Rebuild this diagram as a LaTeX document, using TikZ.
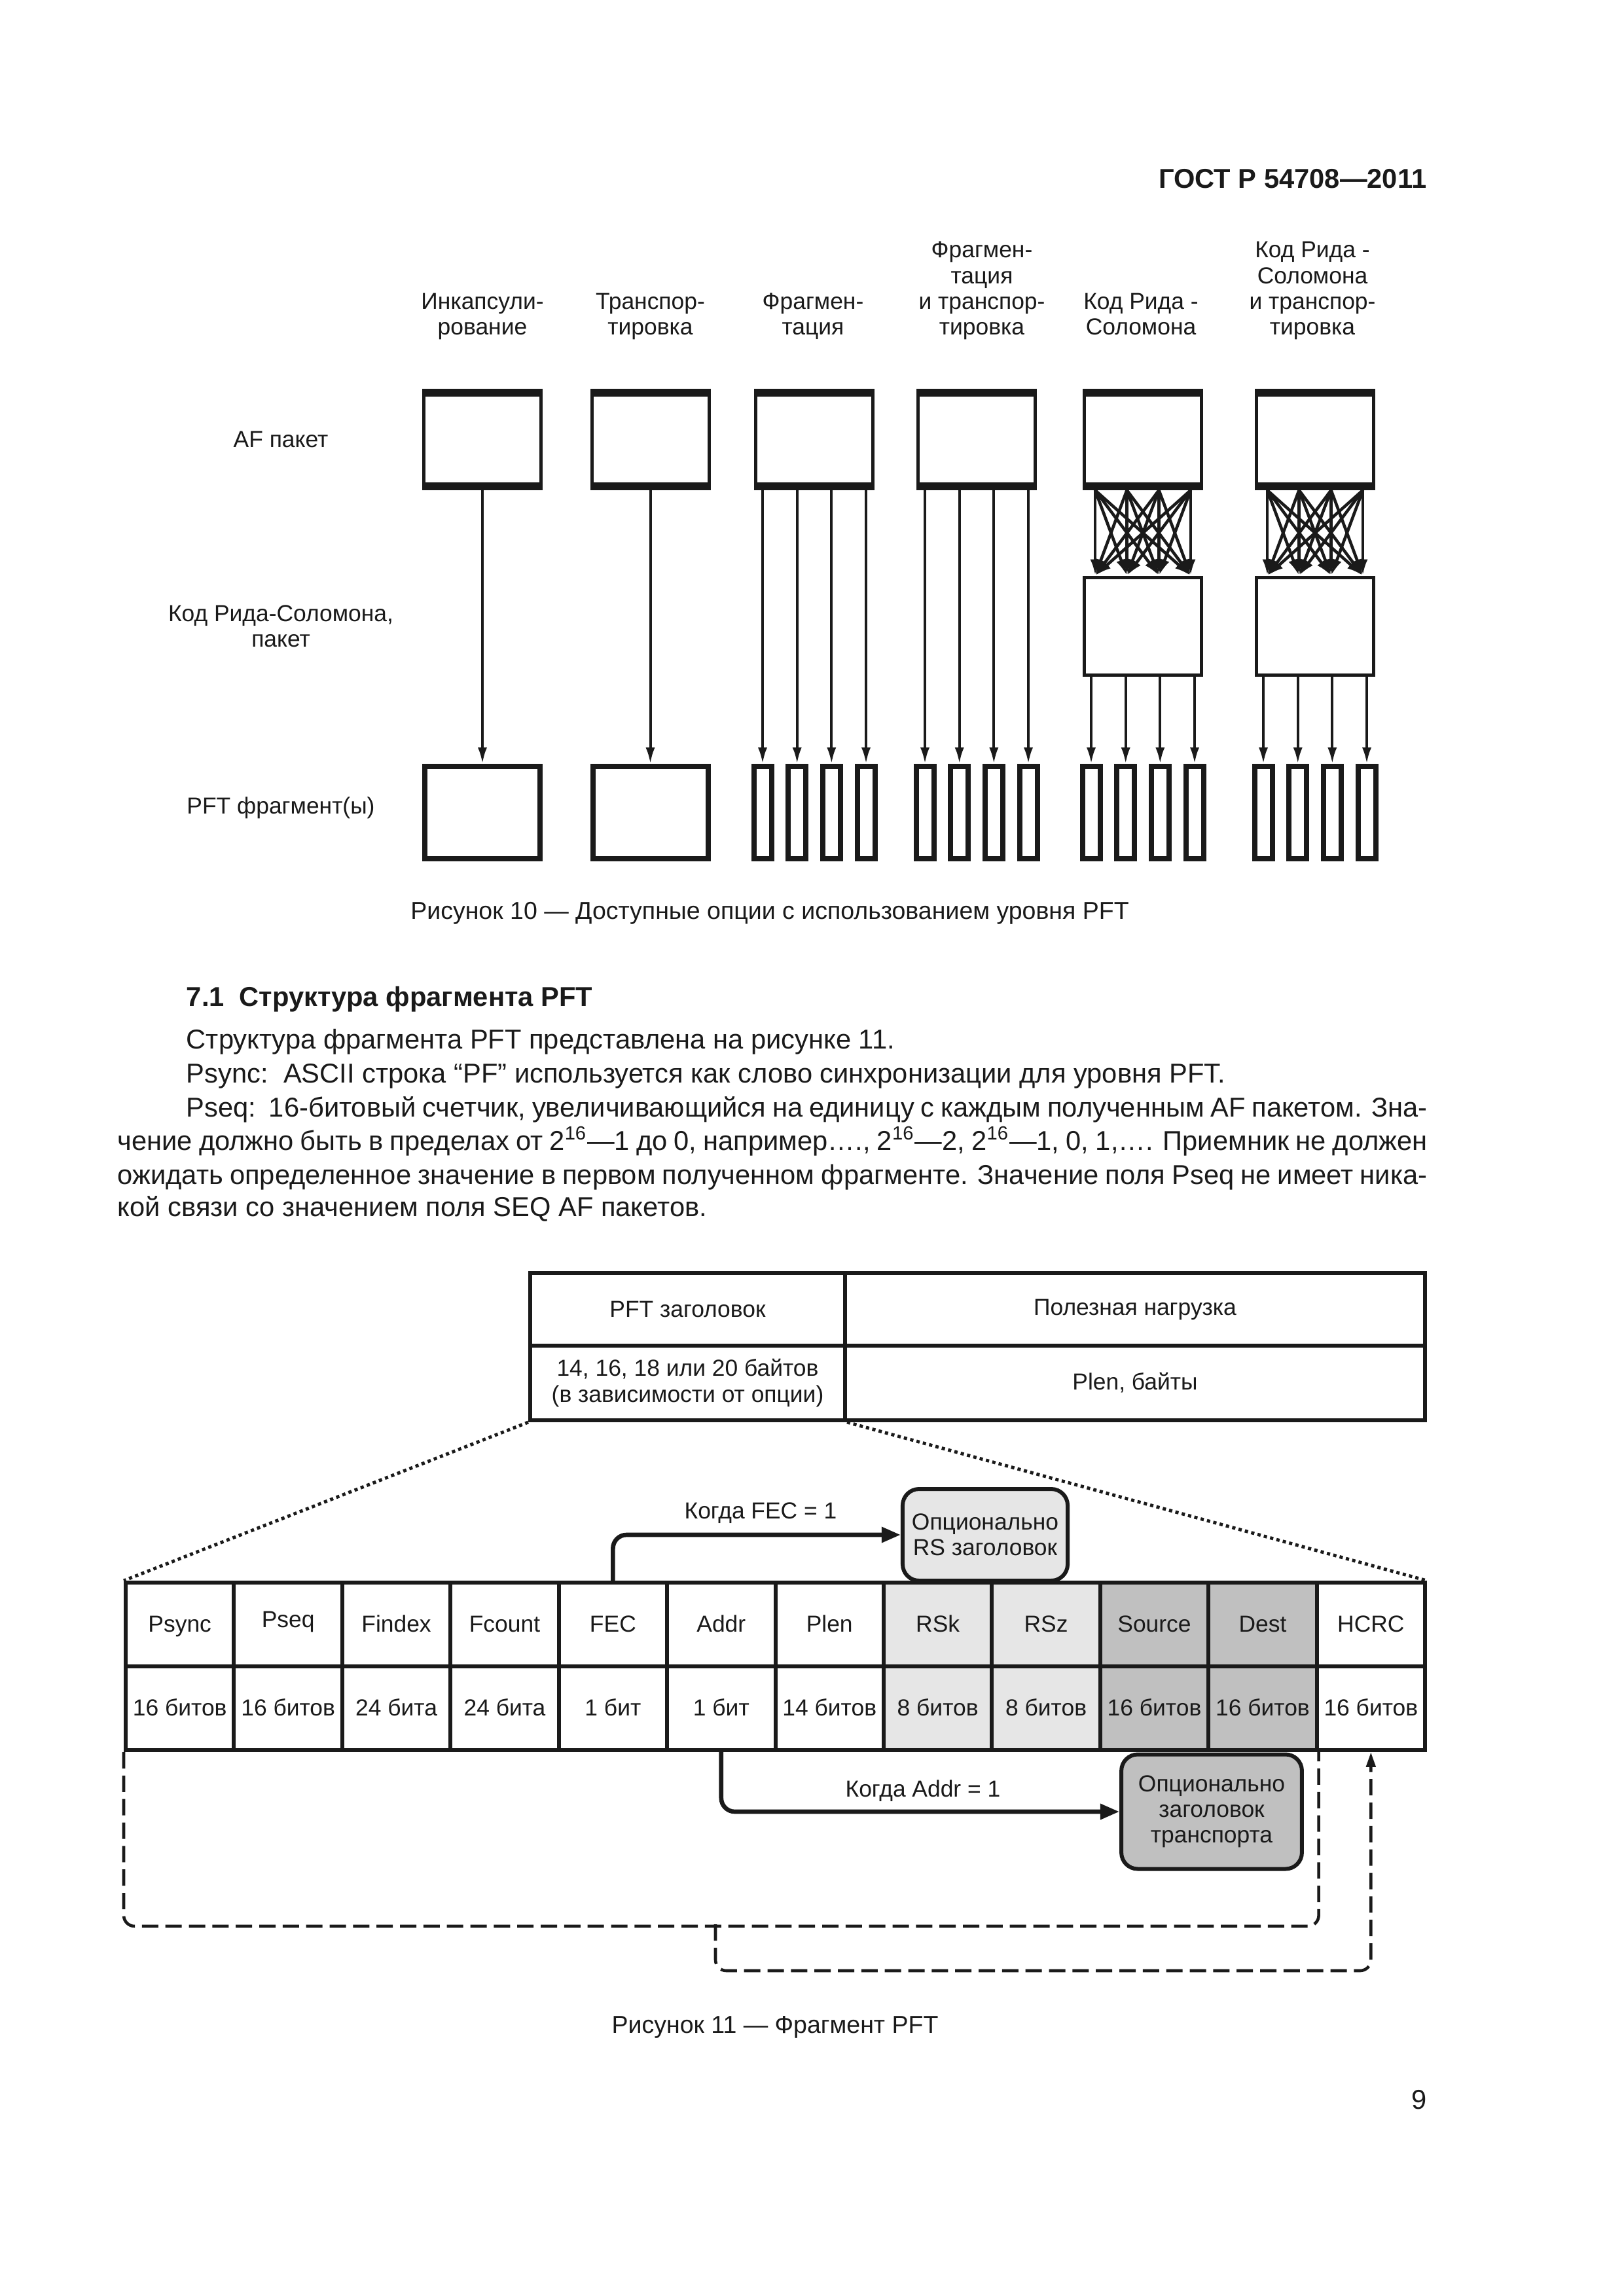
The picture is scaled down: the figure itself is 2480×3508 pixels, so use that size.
\documentclass[tikz,border=0pt]{standalone}
\usepackage{fontspec}
\setmainfont{Liberation Sans}
\usetikzlibrary{arrows.meta,calc}
\definecolor{lgray}{HTML}{E6E6E6}
\definecolor{dgray}{HTML}{C0C0C0}
\definecolor{ink}{HTML}{1A1A1A}
\begin{document}
\begin{tikzpicture}[x=0.24pt,y=-0.24pt,
  afbox/.style={draw=ink, line width=1.2pt, minimum width=42.96pt, minimum height=36pt, inner sep=0pt,
    path picture={\fill[ink] (path picture bounding box.north west) rectangle ([yshift=-2.3pt]path picture bounding box.north east);
                  \fill[ink] (path picture bounding box.south west) rectangle ([yshift=2.3pt]path picture bounding box.south east);}},
  rsbox/.style={draw=ink, line width=1.2pt, minimum width=42.96pt, minimum height=36pt, inner sep=0pt},
  bigfrag/.style={draw=ink, line width=1.92pt, minimum width=42.24pt, minimum height=33.84pt, inner sep=0pt},
  narrowfrag/.style={draw=ink, line width=1.92pt, minimum width=6.48pt, minimum height=33.84pt, inner sep=0pt},
  arr/.style={draw=ink, line width=0.96pt, -{Latex[length=6pt,width=3.4pt]}},
  xarr/.style={draw=ink, line width=1.1pt, -{Latex[length=6pt,width=3.6pt]}},
  fnt/.style={font=\fontsize{8.5}{9.4}\selectfont, inner sep=0pt, text=ink},
  coltitle/.style={fnt, align=center, anchor=south},
  cellA/.style={fnt, draw=ink, line width=1.44pt, align=center},
  cellB/.style={fnt, draw=ink, line width=1.44pt, minimum width=39.7pt, minimum height=30.72pt, text height=6.6pt, text depth=1.2pt},
  rshead/.style={fnt, draw=ink, line width=1.44pt, fill=lgray, rounded corners=6pt, align=center, minimum width=60.5pt, minimum height=33.6pt},
  trbox/.style={fnt, draw=ink, line width=1.44pt, fill=dgray, rounded corners=6pt, align=center, minimum width=66.2pt, minimum height=42pt},
  bendarr/.style={draw=ink, line width=1.6pt, rounded corners=5pt, -{Triangle[length=7pt,width=5.5pt]}},
  dotline/.style={draw=ink, line width=1.2pt, dash pattern=on 1.2pt off 1.2pt},
  dashloop/.style={draw=ink, line width=1.1pt, dash pattern=on 6pt off 2.6pt, rounded corners=4pt},
  bodytxt/.style={font=\fontsize{10}{12}\selectfont, inner sep=0pt, text=ink},
  capt/.style={font=\fontsize{9}{11}\selectfont, inner sep=0pt, text=ink, anchor=base}
]
\fill[white] (0,0) rectangle (2480,3508);
\useasboundingbox (0,0) rectangle (2480,3508);

% header
\node[bodytxt, anchor=base east] (hdr) at (2180,288) {\bfseries ГОСТ Р 54708—2011};

% ---------------- Figure 10 ----------------
\node[coltitle] (t1) at (737,524) {Инкапсули-\\рование\strut};
\node[coltitle] (t2) at (993.5,524) {Транспор-\\тировка\strut};
\node[coltitle] (t3) at (1242,524) {Фрагмен-\\тация\strut};
\node[coltitle] (t4) at (1500,524) {Фрагмен-\\тация\\и транспор-\\тировка\strut};
\node[coltitle] (t5) at (1743,524) {Код Рида -\\Соломона\strut};
\node[coltitle] (t6) at (2005,524) {Код Рида -\\Соломона\\и транспор-\\тировка\strut};

\node[fnt] (lab1) at (429,671) {AF пакет};
\node[fnt, align=center] (lab2) at (429,957) {Код Рида-Соломона,\\пакет};
\node[fnt] (lab3) at (429,1234) {PFT фрагмент(ы)};

\foreach \n/\x in {1/737,2/993.5,3/1244,4/1492,5/1746,6/2009}
  \node[afbox] (a\n) at (\x,671.5) {};

\node[rsbox] (r5) at (1746,957) {};
\node[rsbox] (r6) at (2009,957) {};

\node[bigfrag] (f1) at (737,1241.5) {};
\node[bigfrag] (f2) at (993.5,1241.5) {};
\foreach \c/\x in {3/1244,4/1492,5/1746,6/2009}
  \foreach \i/\d in {1/-79,2/-26.3,3/26.3,4/79}
    \node[narrowfrag] (f\c\i) at ({\x+(\d)},1241.5) {};

\draw[arr] (a1) -- (f1);
\draw[arr] (a2) -- (f2);
\foreach \c in {3,4}
  \foreach \i in {1,2,3,4}
    \draw[arr] (f\c\i.north |- a\c.south) -- (f\c\i.north);
\foreach \c in {5,6}
  \foreach \i in {1,2,3,4}
    \draw[arr] (f\c\i.north |- r\c.south) -- (f\c\i.north);
\foreach \c in {5,6}
  \foreach \s in {-73,-24.5,24.5,73}
    \foreach \t in {-73,-24.5,24.5,73}
      \draw[xarr] ($(a\c.south)+(\s,0)$) -- ($(r\c.north)+(\t,0)$);

\node[capt] (cap10) at (1176,1404) {Рисунок 10 — Доступные опции с использованием уровня PFT};

% ---------------- Text ----------------
\node[bodytxt, anchor=base west] (sec) at (284,1537) {\bfseries 7.1\ \ Структура фрагмента PFT};
\node[bodytxt, anchor=base west] (p1) at (284,1602) {Структура фрагмента PFT представлена на рисунке 11.};
\node[bodytxt, anchor=base west] (p2) at (284,1654) {Psync:\ \ ASCII строка “PF” используется как слово синхронизации для уровня PFT.};
\node[bodytxt, anchor=base west] (p3) at (284,1706) {\makebox[455pt][s]{Pseq:\ \ 16-битовый счетчик, увеличивающийся на единицу с каждым полученным AF пакетом. Зна-}};
\node[bodytxt, anchor=base west] (p4) at (179,1757) {\makebox[480.2pt][s]{чение должно быть в пределах от 2\textsuperscript{16}—1 до 0, например…., 2\textsuperscript{16}—2, 2\textsuperscript{16}—1, 0, 1,…. Приемник не должен}};
\node[bodytxt, anchor=base west] (p5) at (179,1809) {\makebox[480.2pt][s]{ожидать определенное значение в первом полученном фрагменте. Значение поля Pseq не имеет ника-}};
\node[bodytxt, anchor=base west] (p6) at (179,1858) {кой связи со значением поля SEQ AF пакетов.};

% ---------------- Figure 11 ----------------
\node[cellA, minimum width=115.44pt, minimum height=26.64pt] (h1) at (1050.5,2000.5) {PFT заголовок};
\node[cellA, minimum width=212.64pt, minimum height=26.64pt] (h2) at (1734,2000.5) {Полезная нагрузка};
\node[cellA, minimum width=115.44pt, minimum height=27.36pt] (h3) at (1050.5,2113) {14, 16, 18 или 20 байтов\\(в зависимости от опции)};
\node[cellA, minimum width=212.64pt, minimum height=27.36pt] (h4) at (1734,2113) {Plen, байты};

\node[rshead] (rsh) at (1505,2345) {Опционально\\RS заголовок};

\foreach \t/\b/\f [count=\k] in {Psync/16 битов/white, \raisebox{1.6pt}{Pseq}/16 битов/white, Findex/24 бита/white, Fcount/24 бита/white, FEC/1 бит/white, Addr/1 бит/white, Plen/14 битов/white, RSk/8 битов/lgray, RSz/8 битов/lgray, Source/16 битов/dgray, Dest/16 битов/dgray, HCRC/16 битов/white}{
  \node[cellB, fill=\f] (L\k) at ({192+(\k-0.5)*165.42},2482) {\t};
  \node[cellB, fill=\f] (B\k) at ({192+(\k-0.5)*165.42},2610) {\b};
}

\node[trbox] (trh) at (1851,2768) {Опционально\\заголовок\\транспорта};

\draw[dotline] (h3.south west) -- (L1.north west);
\draw[dotline] (h3.south east) -- (L12.north east);

\draw[bendarr] (L5.north) |- (rsh.west);
\draw[bendarr] (B6.south) |- (trh.west);
\node[fnt] (lfec) at (1162,2312) {Когда FEC = 1};
\node[fnt] (laddr) at (1410,2736) {Когда Addr = 1};

\draw[dashloop] (B1.south west) -- ++(0,266) -| (B11.south east);
\coordinate (br) at (1093,2940);
\draw[dashloop, -{Triangle[length=5.5pt,width=3.4pt]}] (br) -- ++(0,71) -| (B12.south);

\node[capt] (cap11) at (1184,3106) {Рисунок 11 — Фрагмент PFT};

\node[bodytxt, anchor=base east] (pg) at (2180,3222) {9};
\end{tikzpicture}
\end{document}
